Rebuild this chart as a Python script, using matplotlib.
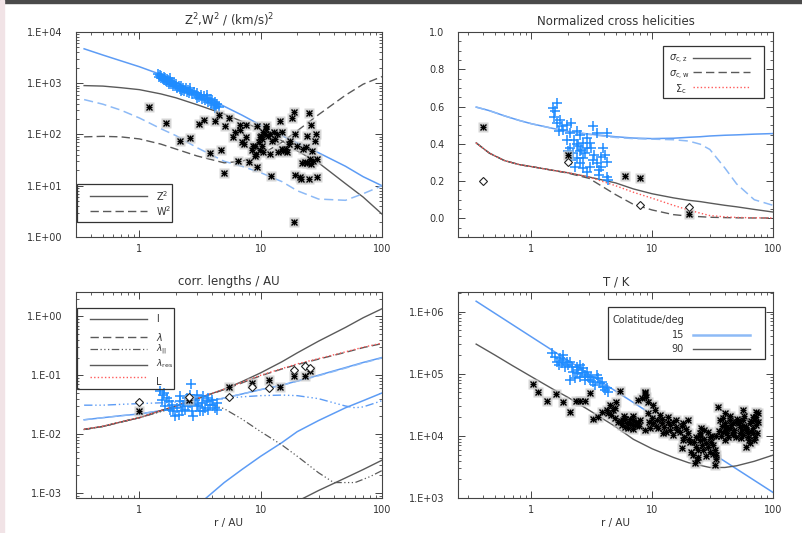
import numpy as np
import matplotlib.pyplot as plt
from matplotlib.patches import Rectangle
from matplotlib.ticker import (FixedLocator, FixedFormatter, LogLocator,
                               NullFormatter, FuncFormatter, MultipleLocator)

# ---------------- panel 1 : Z^2, W^2 ----------------
r1 = [0.35, 0.5, 0.7, 1, 1.5, 2, 3, 5, 7, 10, 15, 20, 30, 50, 70, 100]
z2_15 = [4700, 3550, 2750, 2100, 1480, 1050, 660, 355, 239, 152, 95, 68, 44, 24, 15, 10]
z2_90 = [900, 880, 820, 750, 620, 520, 380, 250, 180, 125, 75, 48, 28, 11, 6, 2.8]
w2_15 = [480, 390, 300, 210, 130, 95, 55, 30, 24, 18, 12, 8, 5.5, 5.2, 7, 10]
w2_90 = [90, 92, 90, 82, 65, 52, 38, 28, 30, 40, 71, 118, 244, 584, 960, 1350]

cross1_r = [1.42, 1.45, 1.48, 1.5, 1.52, 1.55, 1.58, 1.6, 1.63, 1.65, 1.68, 1.7, 1.73,
            1.76, 1.8, 1.83, 1.86, 1.9, 1.93, 1.97, 2.0, 2.05, 2.1, 2.15, 2.2, 2.25,
            2.3, 2.35, 2.4, 2.45, 2.5, 2.55, 2.6, 2.7, 2.8, 2.9, 3.0, 3.1, 3.2, 3.3,
            3.4, 3.5, 3.6, 3.7, 3.8, 3.9, 4.0, 4.1, 4.2, 4.3, 4.4, 4.5, 2.2, 3.0,
            3.6, 4.2, 1.8, 2.6]
cross1_z = [1500, 1350, 1420, 1250, 1380, 1200, 1310, 1150, 1280, 1100, 1220, 1050, 1150,
            980, 1120, 950, 1060, 900, 1000, 870, 960, 820, 900, 780, 870, 740,
            820, 700, 790, 680, 750, 640, 720, 620, 680, 580, 640, 540, 600, 500,
            560, 470, 520, 440, 490, 410, 470, 380, 430, 360, 400, 340, 700, 520,
            600, 330, 1250, 800]

star1_r = [1.2, 1.65, 2.15, 2.6, 3.1, 3.4, 3.85, 4.2, 4.5, 4.75, 5.0, 5.1, 5.5, 5.9,
           6.1, 6.5, 6.7, 7.0, 7.5, 7.6, 8.0, 8.7, 9.0, 9.3, 18.7, 18.2, 24.8, 14.4,
           25.9, 28.7, 27.9, 24, 19.3, 9.4, 10.5, 11.1, 9.86, 8.9, 10.3, 9.2, 12.4,
           13.6, 15.4, 16.1, 15.0, 11.9, 15, 17.4, 20, 22.5, 23.8, 26.5, 25.5, 29.3,
           19.3, 21.4, 25, 29, 12.2, 18.7, 11.1, 10, 10.8, 9.7, 12.8, 10.2, 11.5,
           13, 22, 24, 26, 27, 23, 17, 16.5, 14, 21, 8.5, 9.8, 10.5, 6.8, 7.3, 12]
star1_z = [350, 165, 75, 85, 160, 195, 43, 185, 235, 50, 18, 145, 210, 88,
           110, 30, 155, 70, 154, 88, 29, 60, 38, 23.5, 270, 210, 260, 180,
           154, 102, 75, 92, 102, 147, 110, 128, 88, 60, 60, 41, 75,
           102, 48, 52, 52, 41, 110, 75, 60, 52, 56, 48, 33, 33,
           16, 13.7, 13.3, 14.8, 15.5, 2.0, 148, 95, 100, 70, 110, 80, 95,
           82, 28, 28, 27, 30, 29, 65, 45, 45, 14.5, 50, 50, 45, 125, 65, 100]

# ---------------- panel 2 : cross helicities ----------------
r2 = [0.35, 0.45, 0.6, 0.8, 1, 1.5, 2, 3, 5, 7, 10, 15, 20, 25, 30, 40, 50, 70, 100]
sz_15 = [0.597, 0.578, 0.55, 0.525, 0.508, 0.483, 0.467, 0.452, 0.438, 0.431, 0.428,
         0.43, 0.435, 0.438, 0.442, 0.446, 0.448, 0.452, 0.455]
sw_15 = [0.597, 0.578, 0.55, 0.525, 0.508, 0.483, 0.467, 0.45, 0.434, 0.428, 0.425,
         0.422, 0.415, 0.398, 0.37, 0.27, 0.185, 0.10, 0.07]
sz_90 = [0.405, 0.35, 0.31, 0.288, 0.278, 0.258, 0.245, 0.222, 0.19, 0.158, 0.132,
         0.11, 0.097, 0.09, 0.082, 0.07, 0.062, 0.048, 0.034]
sw_90 = [0.405, 0.35, 0.31, 0.288, 0.278, 0.258, 0.243, 0.215, 0.127, 0.075, 0.045,
         0.02, 0.012, 0.009, 0.006, 0.004, 0.003, 0.002, 0.002]
sc_90 = [0.405, 0.35, 0.31, 0.288, 0.278, 0.258, 0.245, 0.222, 0.175, 0.14, 0.108,
         0.07, 0.045, 0.028, 0.015, 0.008, 0.005, 0.003, 0.002]

star2_r = [0.4, 2.0, 6.0, 8.0, 20]
star2_s = [0.488, 0.34, 0.229, 0.215, 0.025]
diam2_r = [0.4, 2.0, 8.0, 20]
diam2_s = [0.2, 0.30, 0.07, 0.06]
cross2_r = [1.62, 1.52, 1.57, 1.53, 1.73, 1.62, 1.78, 1.96, 2.15, 1.84, 1.68, 2.09, 1.96,
            2.37, 2.52, 3.25, 3.47, 4.2, 2.09, 2.45, 2.6, 2.78, 2.87, 3.15, 2.22, 2.37,
            2.69, 2.52, 2.69, 3.05, 2.87, 3.25, 3.47, 3.6, 3.93, 4.05, 4.2, 3.8, 3.6,
            4.2, 4.33, 2.87, 3.05, 2.69, 2.15, 2.3, 3.8, 2.0, 2.4, 3.3, 2.55, 2.25]
cross2_s = [0.62, 0.59, 0.575, 0.545, 0.53, 0.51, 0.495, 0.50, 0.51, 0.476, 0.467, 0.458,
            0.42, 0.467, 0.449, 0.494, 0.458, 0.458, 0.377, 0.386, 0.368, 0.35, 0.377,
            0.377, 0.35, 0.323, 0.323, 0.296, 0.269, 0.277, 0.25, 0.314, 0.296, 0.259,
            0.377, 0.34, 0.304, 0.277, 0.232, 0.223, 0.205, 0.431, 0.404, 0.404, 0.314,
            0.277, 0.33, 0.36, 0.40, 0.34, 0.36, 0.42]

# ---------------- panel 3 : correlation lengths ----------------
r3 = [0.35, 0.5, 0.7, 1, 1.5, 2, 3, 5, 7, 10, 15, 20, 30, 50, 70, 100]
l_90 = [0.012, 0.0135, 0.016, 0.019, 0.025, 0.03, 0.04, 0.058, 0.078, 0.11, 0.17,
        0.24, 0.38, 0.65, 0.95, 1.35]
lam_90 = [0.012, 0.0135, 0.016, 0.019, 0.025, 0.03, 0.04, 0.057, 0.074, 0.098, 0.128,
          0.152, 0.188, 0.245, 0.295, 0.345]
big_l_90 = [0.0121, 0.0136, 0.0161, 0.0191, 0.0251, 0.0302, 0.0402, 0.058, 0.076, 0.1,
            0.13, 0.156, 0.192, 0.25, 0.3, 0.352]
l_15 = [0.0175, 0.019, 0.0205, 0.022, 0.025, 0.028, 0.033, 0.041, 0.048, 0.057, 0.068,
        0.08, 0.1, 0.135, 0.165, 0.2]
lam_15 = [0.0175, 0.019, 0.0205, 0.022, 0.025, 0.028, 0.033, 0.041, 0.048, 0.057, 0.068,
          0.079, 0.098, 0.132, 0.162, 0.196]
r3_par90 = [0.35, 0.5, 0.7, 1, 1.5, 2, 3, 4, 5, 7, 10, 15, 20, 30, 40, 60, 80, 100]
lpar_90 = [0.012, 0.0135, 0.016, 0.019, 0.024, 0.028, 0.032, 0.031, 0.027, 0.018,
           0.011, 0.0065, 0.0042, 0.0022, 0.0015, 0.0015, 0.0019, 0.0024]
r3_par15 = [0.35, 0.5, 0.7, 1, 1.5, 2, 3, 5, 7, 10, 15, 20, 30, 40, 50, 60, 70, 85, 100]
lpar_15 = [0.031, 0.031, 0.032, 0.033, 0.034, 0.035, 0.037, 0.04, 0.043, 0.045, 0.046,
           0.045, 0.04, 0.034, 0.03, 0.028, 0.029, 0.033, 0.037]
r3_res90 = [20, 30, 50, 70, 100]
lres_90 = [0.00072, 0.0011, 0.0018, 0.0025, 0.0036]
r3_res15 = [3.5, 5, 7, 10, 15, 20, 30, 50, 70, 100]
lres_15 = [0.0008, 0.0015, 0.0025, 0.0042, 0.0072, 0.011, 0.017, 0.028, 0.037, 0.05]

diam3_r = [1.0, 2.55, 5.5, 8.4, 11.6, 18.8, 23.4, 25.7]
diam3_l = [0.0347, 0.042, 0.043, 0.063, 0.061, 0.124, 0.146, 0.133]
star3_r = [1.0, 2.55, 5.5, 8.4, 11.6, 14.3, 18.8, 23.4, 25.7]
star3_l = [0.0245, 0.0385, 0.063, 0.074, 0.084, 0.063, 0.096, 0.096, 0.116]
cross3_r = [1.58, 1.53, 1.68, 1.84, 1.90, 2.03, 1.79, 2.16, 2.3, 2.23, 2.45, 2.53, 2.6,
            2.7, 2.87, 2.97, 3.06, 3.26, 3.36, 3.47, 3.59, 3.7, 3.81, 4.06, 4.2, 4.33,
            3.16, 2.78, 1.97, 2.1, 2.38, 2.6, 1.63, 1.74, 3.94, 4.33, 2.38, 3.36, 3.7,
            2.97, 2.16, 2.64, 1.48, 1.55]
cross3_l = [0.050, 0.038, 0.041, 0.0316, 0.0244, 0.0279, 0.026, 0.036, 0.0316, 0.0244,
            0.041, 0.030, 0.034, 0.0244, 0.038, 0.047, 0.030, 0.034, 0.044, 0.0279,
            0.036, 0.041, 0.0316, 0.0316, 0.0279, 0.034, 0.0244, 0.020, 0.020, 0.0214,
            0.026, 0.047, 0.030, 0.036, 0.038, 0.026, 0.036, 0.0244, 0.026, 0.0316,
            0.044, 0.072, 0.053, 0.046]

# ---------------- panel 4 : temperature ----------------
r4_15 = [0.35, 1, 3, 10, 30, 100]
t_15 = [1.47e6, 3.94e5, 9.96e4, 2.2e4, 5.56e3, 1.23e3]
r4_90 = [0.35, 0.5, 0.7, 1, 1.5, 2, 3, 5, 7, 10, 15, 20, 30, 40, 50, 70, 100]
t_90 = [3.0e5, 2.0e5, 1.35e5, 9.0e4, 5.7e4, 4.2e4, 2.6e4, 1.4e4, 8.8e3, 6.2e3, 4.5e3,
        3.7e3, 3.1e3, 3.1e3, 3.3e3, 3.9e3, 4.9e3]

cross4_r = [1.48, 1.57, 1.62, 1.73, 1.78, 1.84, 1.96, 2.02, 1.90, 2.09, 2.16, 2.23, 2.37,
            2.45, 2.53, 2.61, 2.69, 2.78, 2.87, 2.96, 2.09, 2.30, 3.05, 3.15, 3.26, 3.47,
            3.58, 3.70, 3.82, 3.94, 4.04, 4.2, 4.33, 1.68, 1.84, 2.53, 2.78, 3.36, 2.37]
cross4_t = [2.15e5, 1.89e5, 1.57e5, 1.78e5, 1.48e5, 1.67e5, 1.57e5, 1.38e5, 1.30e5,
            1.57e5, 1.30e5, 1.08e5, 1.30e5, 1.15e5, 1.38e5, 1.02e5, 1.22e5, 9.5e4,
            1.08e5, 9.0e4, 7.9e4, 8.5e4, 7.9e4, 9.0e4, 7.5e4, 9.5e4, 8.5e4, 7.0e4,
            7.5e4, 6.2e4, 5.5e4, 5.9e4, 5.15e4, 1.38e5, 2.0e5, 9.0e4, 7.9e4, 6.6e4,
            1.02e5]

star4_r = [1.04, 1.13, 1.34, 1.6, 1.84, 2.09, 2.33, 2.53, 2.78, 3.05, 3.26, 3.58, 3.82,
           4.2, 4.47, 4.33, 4.76, 5.07, 4.9, 5.4, 5.2, 5.7, 6.0, 6.5, 6.9, 7.2, 7.6,
           8.0, 8.7, 8.9, 9.2, 7.6, 5.6, 6.9, 6.0, 7.0,
           8.7, 8.2, 10.2, 9.25, 9.9, 10.2, 9.6, 8.7, 11.6, 13.5, 15.9, 18.0, 19.8,
           14.1, 16.9, 19.8, 13.1, 12.3, 14.9, 11.2, 12.0, 15.9, 18.0, 17.5, 20.5,
           21.8, 23.3, 22.5, 24.0, 24.8, 25.5, 27, 28.9, 29.9, 24.8, 28.1, 30.9,
           26.3, 31.9, 33.9, 32.9, 35.2, 36.2, 38.6, 39.8, 41.1, 43.9, 46.7, 49.8,
           53, 56.5, 56.5, 60.2, 62.2, 64.2, 68.3, 70.5, 72.8, 70.5, 60.2, 53, 46.7,
           43.9, 41.1, 38.6, 42.5, 49.8, 54.7, 64.2, 68.3, 75.1, 39.8,
           37, 40, 45, 48, 52, 55, 58, 62, 66, 72, 74, 66, 58, 50, 44, 38, 42, 47, 70,
           63, 60, 75, 73, 68, 36, 34, 53, 57,
           22, 23, 26, 27, 29, 31, 33, 21, 24, 28, 34, 32, 30, 23, 25,
           11, 12.5, 14, 16, 17.5, 19, 10.8, 13.5, 15, 18.5, 20, 9.5, 10.5, 12,
           4.6, 5.5, 6.2, 6.6, 7.4, 7.8, 5.8, 4.9, 6.3, 7.0]
star4_t = [6.8e4, 5.0e4, 3.67e4, 4.67e4, 3.56e4, 2.45e4, 3.65e4, 3.69e4, 3.69e4,
           4.85e4, 1.87e4, 2.04e4, 2.45e4, 2.6e4, 3.15e4, 2.3e4, 2.6e4, 3.56e4,
           1.96e4, 5.3e4, 1.69e4, 1.78e4, 1.9e4, 1.6e4, 1.78e4, 1.52e4, 1.6e4,
           1.78e4, 5.15e4, 4.2e4, 3.56e4, 3.8e4, 1.47e4, 1.3e4, 1.4e4, 2.1e4,
           4.96e4, 4.03e4, 3.15e4, 2.31e4, 1.92e4, 1.6e4, 1.32e4, 1.24e4, 2.17e4,
           2.04e4, 1.8e4, 1.6e4, 1.8e4, 1.5e4, 1.17e4, 1.1e4, 1.17e4, 1.1e4,
           1.03e4, 1.32e4, 1.6e4, 1.41e4, 8.6e3, 6.3e3, 8.1e3, 4.9e3, 4.1e3,
           3.6e3, 5.9e3, 1.1e4, 1.32e4, 1.24e4, 1.17e4, 9.7e3, 8.6e3, 7.6e3,
           8.1e3, 5.9e3, 5.2e3, 4.3e3, 3.4e3, 2.88e4, 1.8e4, 1.92e4, 1.6e4,
           1.41e4, 1.8e4, 1.6e4, 1.7e4, 1.41e4, 1.8e4, 2.61e4, 1.24e4, 9.7e3,
           7.6e3, 1.32e4, 1.8e4, 2.45e4, 9.7e3, 6.7e3, 1.1e4, 1.17e4, 1.32e4,
           1.24e4, 1.17e4, 9.7e3, 9.7e3, 9.2e3, 1.6e4, 2.04e4, 2.31e4, 2.31e4,
           1.0e4, 8.5e3, 1.5e4, 1.25e4, 1.6e4, 1.25e4, 1.45e4, 1.1e4, 1.2e4,
           1.5e4, 1.1e4, 1.75e4, 2.1e4, 1.9e4, 2.1e4, 1.45e4, 1.1e4, 1.05e4,
           8.5e3, 8.5e3, 1.4e4, 1.7e4, 2.0e4, 1.1e4, 1.2e4, 1.0e4, 1.75e4, 1.05e4,
           8.0e3, 6.5e3, 7.0e3, 9.0e3, 6.5e3, 1.0e4, 6.0e3, 5.5e3, 4.5e3, 4.8e3,
           5.0e3, 7.2e3, 5.6e3, 9.5e3, 1.0e4,
           1.8e4, 1.4e4, 1.25e4, 1.25e4, 1.45e4, 1.3e4, 1.45e4, 1.65e4, 1.7e4,
           9.5e3, 9.0e3, 1.7e4, 2.6e4, 1.9e4,
           2.2e4, 1.75e4, 1.6e4, 1.9e4, 1.7e4, 1.45e4, 2.1e4, 2.8e4, 1.35e4, 1.5e4]

GRAY = '#5a5a5a'
BLUE = '#5d9cf5'
BLUE_L = '#8dbaf6'
CROSS = '#1f8cff'
RED = '#ff5a5a'
TXT = '#333333'
DASH = (0, (6, 3))
DOT = (0, (1, 1.6))
DASH3DOT = (0, (6, 2, 1, 2, 1, 2, 1, 2))

plt.rcParams['font.family'] = 'DejaVu Sans'
plt.rcParams['font.size'] = 7

fig = plt.figure(figsize=(8.02, 5.33), dpi=100)
# screenshot frame
fig.patches.append(Rectangle((0, 1 - 3 / 533), 1, 3 / 533, transform=fig.transFigure,
                             color='#4a4a4a', zorder=0))
fig.patches.append(Rectangle((0, 0), 4 / 802, 1, transform=fig.transFigure,
                             color='#f1e3e6', zorder=0))


def log_fmt(v, pos):
    return '1.E%+03d' % int(round(np.log10(v)))


def style(ax, xmin, ylog=True):
    ax.set_xscale('log')
    ax.set_xlim(xmin, 100)
    ax.xaxis.set_major_locator(FixedLocator([1, 10, 100]))
    ax.xaxis.set_major_formatter(FixedFormatter(['1', '10', '100']))
    ax.xaxis.set_minor_locator(LogLocator(base=10, subs=np.arange(2, 10)))
    ax.xaxis.set_minor_formatter(NullFormatter())
    if ylog:
        ax.set_yscale('log')
        ax.yaxis.set_major_locator(LogLocator(base=10, numticks=12))
        ax.yaxis.set_major_formatter(FuncFormatter(log_fmt))
        ax.yaxis.set_minor_locator(LogLocator(base=10, subs=np.arange(2, 10), numticks=12))
        ax.yaxis.set_minor_formatter(NullFormatter())
    ax.tick_params(which='both', direction='in', top=True, right=True,
                   colors='#444444', labelcolor=TXT, labelsize=7)
    ax.tick_params(which='major', length=5, width=0.7)
    ax.tick_params(which='minor', length=2.5, width=0.6)
    ax.tick_params(axis='y', pad=10)
    ax.tick_params(axis='x', pad=5)
    for s in ax.spines.values():
        s.set_color('#444444')
        s.set_linewidth(0.8)


def stars(ax, x, y):
    ax.plot(x, y, ls='none', marker='s', ms=7, mfc='#c4c4c4', mec='none', alpha=0.7, zorder=3)
    ax.plot(x, y, ls='none', marker='+', ms=5, mew=1.0, color='black', zorder=4)
    ax.plot(x, y, ls='none', marker='x', ms=4, mew=1.0, color='black', zorder=4)


def crosses(ax, x, y):
    ax.plot(x, y, ls='none', marker='+', ms=7.5, mew=1.1, color=CROSS, zorder=3)


def diamonds(ax, x, y):
    ax.plot(x, y, ls='none', marker='D', ms=3.8, mfc='white', mec='#222222', mew=0.8, zorder=4)


def leg_box(ax, x0, y0, x1, y1):
    ax.add_patch(Rectangle((x0, y0), x1 - x0, y1 - y0, transform=ax.transAxes,
                           fill=False, ec='#333333', lw=0.9, zorder=5))


def leg_line(ax, x0, x1, y, **kw):
    ax.plot([x0, x1], [y, y], transform=ax.transAxes, zorder=5, **kw)


W1 = (76, 382)
W2 = (458.5, 773)
H_TOP = (32, 237)
H_BOT = (292, 498)


def make_axes(xp, yp):
    return fig.add_axes([xp[0] / 802, 1 - yp[1] / 533, (xp[1] - xp[0]) / 802,
                         (yp[1] - yp[0]) / 533])


# ---------- panel 1 ----------
ax1 = make_axes(W1, H_TOP)
ax1.plot(r1, z2_15, color=BLUE, lw=1.1)
ax1.plot(r1, z2_90, color=GRAY, lw=1.0)
ax1.plot(r1, w2_15, color=BLUE_L, lw=1.1, ls=DASH)
ax1.plot(r1, w2_90, color=GRAY, lw=1.0, ls=DASH)
crosses(ax1, cross1_r, cross1_z)
stars(ax1, star1_r, star1_z)
style(ax1, 0.3)
ax1.set_ylim(1, 1e4)
ax1.set_title(r'Z$^2$,W$^2$ / (km/s)$^2$', fontsize=8.5, color=TXT, pad=5)
leg_box(ax1, 0.003, 0.072, 0.313, 0.257)
leg_line(ax1, 0.046, 0.232, 0.201, color=GRAY, lw=1.0)
leg_line(ax1, 0.046, 0.232, 0.128, color=GRAY, lw=1.0, ls=DASH)
ax1.text(0.262, 0.201, r'Z$^2$', transform=ax1.transAxes, va='center', color=TXT, fontsize=7)
ax1.text(0.262, 0.128, r'W$^2$', transform=ax1.transAxes, va='center', color=TXT, fontsize=7)

# ---------- panel 2 ----------
ax2 = make_axes(W2, H_TOP)
ax2.plot(r2, sz_15, color=BLUE, lw=1.1)
ax2.plot(r2, sw_15, color=BLUE_L, lw=1.1, ls=DASH)
ax2.plot(r2, sz_90, color=GRAY, lw=1.0)
ax2.plot(r2, sw_90, color=GRAY, lw=1.0, ls=DASH)
ax2.plot(r2, sc_90, color=RED, lw=1.0, ls=DOT)
crosses(ax2, cross2_r, cross2_s)
stars(ax2, star2_r, star2_s)
diamonds(ax2, diam2_r, diam2_s)
style(ax2, 0.25, ylog=False)
ax2.set_ylim(-0.1, 1.0)
ax2.yaxis.set_major_locator(MultipleLocator(0.2))
ax2.yaxis.set_major_formatter(FuncFormatter(lambda v, p: '%.1f' % v if v >= -0.01 else ''))
ax2.yaxis.set_minor_locator(MultipleLocator(0.05))
ax2.set_title('Normalized cross helicities', fontsize=8.5, color=TXT, pad=5)
leg_box(ax2, 0.651, 0.677, 0.972, 0.933)
leg_line(ax2, 0.746, 0.927, 0.873, color=GRAY, lw=1.0)
leg_line(ax2, 0.746, 0.927, 0.805, color=GRAY, lw=1.0, ls=DASH)
leg_line(ax2, 0.746, 0.927, 0.730, color=RED, lw=1.0, ls=DOT)
ax2.text(0.668, 0.866, r'$\sigma_{\rm c,z}$', transform=ax2.transAxes, va='center', color=TXT, fontsize=7)
ax2.text(0.668, 0.790, r'$\sigma_{\rm c,w}$', transform=ax2.transAxes, va='center', color=TXT, fontsize=7)
ax2.text(0.688, 0.722, r'$\Sigma_{\rm c}$', transform=ax2.transAxes, va='center', color=TXT, fontsize=7)

# ---------- panel 3 ----------
ax3 = make_axes(W1, H_BOT)
ax3.plot(r3, l_15, color=BLUE, lw=1.1)
ax3.plot(r3, lam_15, color=BLUE_L, lw=1.0, ls=DASH)
ax3.plot(r3_par15, lpar_15, color=BLUE, lw=1.0, ls=DASH3DOT)
ax3.plot(r3_res15, lres_15, color=BLUE, lw=1.1)
ax3.plot(r3, l_90, color=GRAY, lw=1.0)
ax3.plot(r3, lam_90, color=GRAY, lw=1.0, ls=DASH)
ax3.plot(r3_par90, lpar_90, color=GRAY, lw=0.9, ls=DASH3DOT)
ax3.plot(r3_res90, lres_90, color=GRAY, lw=1.0)
ax3.plot(r3, big_l_90, color=RED, lw=1.0, ls=DOT)
crosses(ax3, cross3_r, cross3_l)
stars(ax3, star3_r, star3_l)
diamonds(ax3, diam3_r, diam3_l)
style(ax3, 0.3)
ax3.set_ylim(8.2e-4, 2.6)
ax3.set_title('corr. lengths / AU', fontsize=8.5, color=TXT, pad=5)
ax3.set_xlabel('r / AU', fontsize=7.5, color=TXT, labelpad=2)
leg_box(ax3, 0.003, 0.528, 0.319, 0.921)
leg_line(ax3, 0.046, 0.232, 0.867, color=GRAY, lw=1.0)
leg_line(ax3, 0.046, 0.232, 0.780, color=GRAY, lw=1.0, ls=DASH)
leg_line(ax3, 0.046, 0.232, 0.722, color=GRAY, lw=0.9, ls=DASH3DOT)
leg_line(ax3, 0.046, 0.232, 0.646, color=GRAY, lw=1.0)
leg_line(ax3, 0.046, 0.232, 0.586, color=RED, lw=1.0, ls=DOT)
ax3.text(0.262, 0.867, 'l', transform=ax3.transAxes, va='center', color=TXT, fontsize=7)
ax3.text(0.262, 0.780, r'$\lambda$', transform=ax3.transAxes, va='center', color=TXT, fontsize=7)
ax3.text(0.262, 0.708, r'$\lambda_{||}$', transform=ax3.transAxes, va='baseline',
         color=TXT, fontsize=6.5)
ax3.text(0.262, 0.638, r'$\lambda_{\rm res}$', transform=ax3.transAxes, va='baseline',
         color=TXT, fontsize=6.5)
ax3.text(0.262, 0.548, 'L', transform=ax3.transAxes, va='baseline', color=TXT, fontsize=7)

# ---------- panel 4 ----------
ax4 = make_axes(W2, H_BOT)
ax4.plot(r4_15, t_15, color=BLUE, lw=1.1)
ax4.plot(r4_90, t_90, color=GRAY, lw=1.0)
stars(ax4, star4_r, star4_t)
crosses(ax4, cross4_r, cross4_t)
style(ax4, 0.25)
ax4.set_ylim(1e3, 2.07e6)
ax4.set_title('T / K', fontsize=8.5, color=TXT, pad=5)
ax4.set_xlabel('r / AU', fontsize=7.5, color=TXT, labelpad=2)
leg_box(ax4, 0.476, 0.673, 0.975, 0.926)
ax4.text(0.491, 0.864, 'Colatitude/deg', transform=ax4.transAxes, va='center', color=TXT, fontsize=7)
ax4.text(0.717, 0.793, '15', transform=ax4.transAxes, va='center', ha='right', color=TXT, fontsize=7)
ax4.text(0.717, 0.722, '90', transform=ax4.transAxes, va='center', ha='right', color=TXT, fontsize=7)
leg_line(ax4, 0.746, 0.927, 0.793, color=BLUE_L, lw=1.8)
leg_line(ax4, 0.746, 0.927, 0.722, color=GRAY, lw=1.0)

fig.savefig('out.png', dpi=100)
